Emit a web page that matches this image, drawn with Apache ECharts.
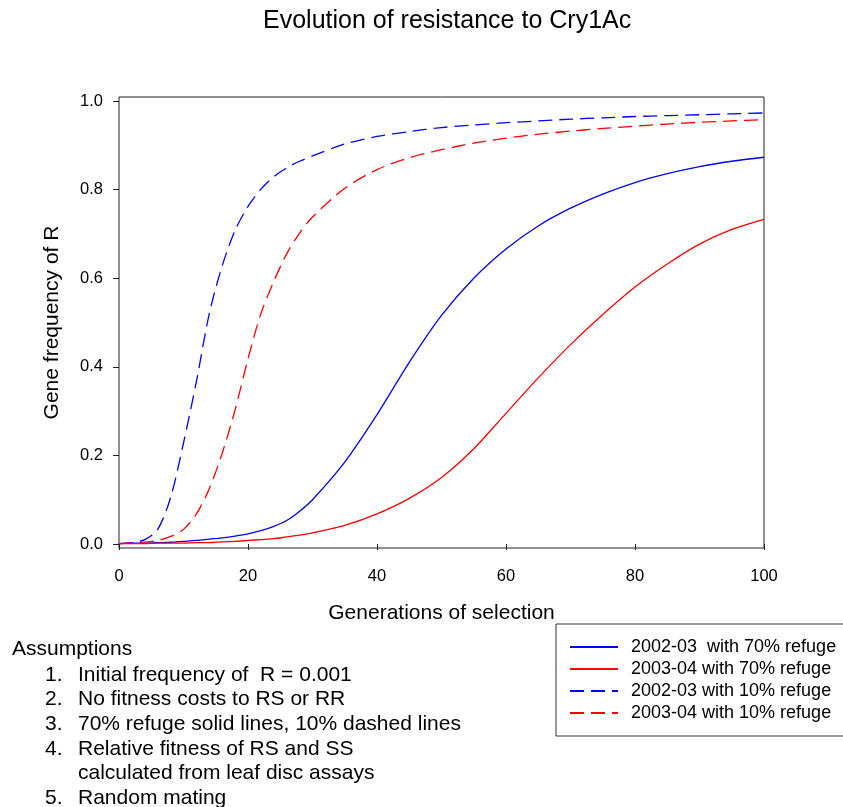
<!DOCTYPE html>
<html>
<head>
<meta charset="utf-8">
<script src="https://cdn.jsdelivr.net/npm/echarts@6/dist/echarts.min.js"></script>
<style>
html,body{margin:0;padding:0;background:#fff;}
#chart{width:843px;height:807px;}
</style>
</head>
<body>
<div id="chart"></div>
<script>
// ---- data ----
var generations = [0,2,4,6,8,10,12,14,16,18,20,22,24,26,28,30,35,40,45,50,55,60,65,70,75,80,85,90,95,100];
var seriesNames = ['2002-03  with 70% refuge','2003-04 with 70% refuge','2002-03 with 10% refuge','2003-04 with 10% refuge'];
var blue70 = [0.001,0.002,0.002,0.003,0.004,0.006,0.008,0.011,0.014,0.018,0.023,0.030,0.040,0.053,0.074,0.100,0.185,0.292,0.410,0.516,0.600,0.666,0.718,0.758,0.790,0.816,0.836,0.852,0.864,0.873];
var red70  = [0.001,0.001,0.001,0.002,0.002,0.002,0.003,0.003,0.005,0.006,0.008,0.010,0.012,0.016,0.020,0.025,0.042,0.068,0.103,0.150,0.215,0.295,0.375,0.450,0.518,0.580,0.632,0.677,0.710,0.733];
var blue10 = [0.001,0.003,0.010,0.033,0.105,0.228,0.367,0.520,0.628,0.708,0.762,0.801,0.829,0.849,0.864,0.876,0.903,0.920,0.931,0.940,0.946,0.951,0.955,0.959,0.962,0.965,0.967,0.969,0.971,0.973];
var red10  = [0.001,0.002,0.004,0.008,0.017,0.033,0.068,0.125,0.205,0.303,0.418,0.520,0.593,0.655,0.702,0.738,0.803,0.845,0.872,0.890,0.905,0.916,0.925,0.932,0.938,0.943,0.948,0.952,0.955,0.958];
var xTicks = {min:0, max:100, interval:20};
var yTicks = {min:0, max:1, interval:0.2};
var titleText = 'Evolution of resistance to Cry1Ac';
var xName = 'Generations of selection';
var yName = 'Gene frequency of R';
var assumptionsTitle = 'Assumptions';
var assumptionNums = ['1.','2.','3.','4.','','5.'];
var assumptionLines = ['Initial frequency of  R = 0.001','No fitness costs to RS or RR','70% refuge solid lines, 10% dashed lines','Relative fitness of RS and SS','calculated from leaf disc assays','Random mating'];

function pairs(ys){ return generations.map(function(g,i){ return [g, ys[i]]; }); }

var FONT = '"Liberation Sans", Arial, sans-serif';
var chart = echarts.init(document.getElementById('chart'), null, {renderer:'canvas'});

var lineDefs = [
  {data: blue70, color:'#0000ff', type:'solid'},
  {data: red70,  color:'#ff0000', type:'solid'},
  {data: blue10, color:'#0000ff', type:[14,7]},
  {data: red10,  color:'#ff0000', type:[14,7]}
];

var graphics = [{
  type:'text', left:12, top:639,
  style:{text:assumptionsTitle, font:'21px ' + FONT, fill:'#000'}
}];
assumptionLines.forEach(function(t,i){
  var y = 664.5 + i*24.6;
  if (assumptionNums[i]) {
    graphics.push({type:'text', left:45, top:y, style:{text:assumptionNums[i], font:'21px ' + FONT, fill:'#000'}});
  }
  graphics.push({type:'text', left:78, top:y, style:{text:t, font:'21px ' + FONT, fill:'#000'}});
});

chart.setOption({
  animation:false,
  backgroundColor:'#fff',
  title:{text:titleText, left:258, top:4, textStyle:{fontFamily:FONT, fontSize:25, fontWeight:'normal', color:'#000'}},
  grid:[
    {left:119, right:79, top:101, bottom:263, show:false},
    {left:119, right:79, top:97, bottom:259, show:true, borderColor:'#222', borderWidth:1, backgroundColor:'transparent'}
  ],
  xAxis:[
    {type:'value', gridIndex:0, min:xTicks.min, max:xTicks.max, interval:xTicks.interval, offset:4,
     name:xName, nameLocation:'middle', nameGap:55, nameTextStyle:{fontFamily:FONT, fontSize:21, color:'#000'},
     axisLine:{show:false}, axisTick:{show:true, length:6, lineStyle:{color:'#222'}},
     axisLabel:{fontFamily:FONT, fontSize:16.5, color:'#000', margin:20}, splitLine:{show:false}},
    {type:'value', gridIndex:1, min:0, max:1, show:false}
  ],
  yAxis:[
    {type:'value', gridIndex:0, min:yTicks.min, max:yTicks.max, interval:yTicks.interval,
     name:yName, nameLocation:'middle', nameGap:56, nameTextStyle:{fontFamily:FONT, fontSize:21, color:'#000'},
     axisLine:{show:false}, axisTick:{show:true, length:6, lineStyle:{color:'#222'}},
     axisLabel:{fontFamily:FONT, fontSize:16.5, color:'#000', margin:16, formatter:function(v){return v.toFixed(1);}}, splitLine:{show:false}},
    {type:'value', gridIndex:1, min:0, max:1, show:false}
  ],
  legend:{
    orient:'vertical', left:556, top:624,
    itemWidth:48, itemHeight:14, itemGap:4,
    padding:[14,50,14,13],
    borderColor:'#333', borderWidth:1,
    itemStyle:{opacity:0},
    textStyle:{fontFamily:FONT, fontSize:18, lineHeight:18, color:'#000', padding:[0,0,0,8]},
    data:seriesNames
  },
  graphic:graphics,
  series: lineDefs.map(function(d,i){
    return {
      name:seriesNames[i], type:'line', xAxisIndex:0, yAxisIndex:0,
      data:pairs(d.data), smooth:0.3, symbol:'none', showSymbol:false,
      lineStyle:{color:d.color, width:1.3, type:d.type}, itemStyle:{color:d.color},
      clip:false
    };
  })
});
</script>
</body>
</html>
